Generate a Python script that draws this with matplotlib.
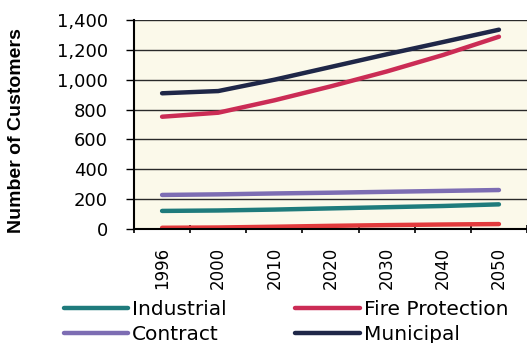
"""Projected customer counts by class, 1996-2050."""

import matplotlib

matplotlib.use("Agg")
import matplotlib.pyplot as plt
from matplotlib.ticker import FuncFormatter, FixedLocator
import numpy as np

years = ["1996", "2000", "2010", "2020", "2030", "2040", "2050"]
municipal = [909, 924, 1000, 1085, 1170, 1252, 1335]
fire_protection = [752, 779, 862, 955, 1055, 1165, 1288]
contract = [228, 232, 238, 243, 249, 255, 261]
industrial = [121, 124, 130, 138, 146, 154, 165]
other = [8, 10, 15, 21, 26, 30, 33]

plt.rcParams["font.family"] = ["DejaVu Sans"]

fig = plt.figure(figsize=(5.27, 3.43), dpi=100)
ax = fig.add_axes([0.2543, 0.3324, 0.7457, 0.6093])
ax.set_facecolor("#fbf9ea")

x = np.arange(len(years))
lw = 3.2
ln_ind, = ax.plot(x, industrial, color="#1f7b7c", lw=lw, solid_capstyle="round", label="Industrial")
ln_con, = ax.plot(x, contract, color="#7d6db3", lw=lw, solid_capstyle="round", label="Contract")
ax.plot(x, other, color="#e23a3c", lw=lw, solid_capstyle="round", label="_other")
ln_fire, = ax.plot(x, fire_protection, color="#cb2c55", lw=lw, solid_capstyle="round", label="Fire Protection")
ln_mun, = ax.plot(x, municipal, color="#1f2748", lw=lw, solid_capstyle="round", label="Municipal")

ax.set_xlim(-0.5, len(years) - 0.5)
ax.set_ylim(0, 1400)
ax.set_yticks(np.arange(0, 1401, 200))
ax.yaxis.set_major_formatter(FuncFormatter(lambda v, _: f"{int(v):,}"))
ax.yaxis.grid(True, color="#2a2a2a", lw=1.0)
ax.set_axisbelow(True)

# labels sit at category centers, tick marks at category boundaries
ax.set_xticks(x)
ax.set_xticklabels(years, rotation=90)
ax.tick_params(axis="x", which="major", length=0, pad=13, labelsize=12)
ax.xaxis.set_minor_locator(FixedLocator(np.arange(-0.5, len(years), 1.0)))
ax.tick_params(axis="x", which="minor", length=6, width=1.2, direction="inout")
ax.tick_params(axis="y", length=6, width=1.0, labelsize=13, pad=13)

for side in ("left", "bottom"):
    ax.spines[side].set_linewidth(1.5)
    ax.spines[side].set_color("black")
ax.spines["right"].set_visible(False)
ax.spines["top"].set_visible(False)

fig.text(0.032, 0.618, "Number of Customers", rotation=90, ha="center", va="center",
         fontsize=14, fontweight="bold", family="Liberation Sans")

fig.legend(
    handles=[ln_ind, ln_con, ln_fire, ln_mun],
    loc="upper left",
    bbox_to_anchor=(0.102, 0.156),
    ncol=2,
    frameon=False,
    fontsize=14.5,
    handlelength=3.2,
    handletextpad=0.2,
    columnspacing=3.4,
    labelspacing=0.3,
    borderpad=0,
)

fig.savefig("out.png", dpi=100)
plt.close(fig)
